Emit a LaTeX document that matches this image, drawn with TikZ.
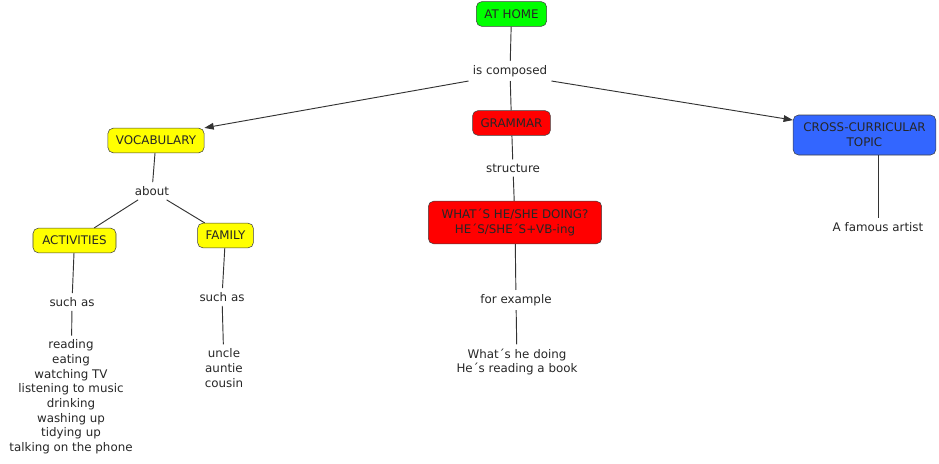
\documentclass[tikz,border=0pt]{standalone}
\usepackage{fontspec}
\setmainfont{DejaVu Sans}
\usetikzlibrary{
    positioning,   % relative placement
    arrows.meta    % arrow tips
}

\begin{document}
\begin{tikzpicture}[
    x=0.75pt, y=-0.75pt,
    % Global text settings
    every node/.style={font=\fontsize{8.9}{11}\selectfont, text=black!85},
    % Style for the concept boxes
    concept/.style={
        draw=black!75,
        rounded corners=4pt,
        inner xsep=6pt,
        minimum height=18.5pt,
        align=center
    },
    % Box colours
    green_box/.style={concept, fill={rgb,255:red,0;green,255;blue,0}},
    yellow_box/.style={concept, fill={rgb,255:red,255;green,255;blue,0}},
    red_box/.style={concept, fill={rgb,255:red,255;green,0;blue,0}},
    blue_box/.style={concept, fill={rgb,255:red,51;green,102;blue,255}},
    % Style for the linking phrases and plain texts
    link_text/.style={inner sep=3pt, align=center},
    % Connectors
    link_line/.style={draw=black!80, line width=0.7pt},
    arrow_tip/.style={-{Triangle[length=7pt, width=5pt]}}
]
    \useasboundingbox (0,0) rectangle (939,464);

    % 1. Concept boxes
    \node[green_box] (at_home) at (511.5,14) {AT HOME};
    \node[yellow_box] (vocabulary) at (156,140.5) {VOCABULARY};
    \node[red_box] (grammar) at (511.5,123) {GRAMMAR};
    \node[blue_box, minimum width=107pt, minimum height=30pt] (cross_topic) at (864.5,135) {CROSS-CURRICULAR\\TOPIC};
    \node[yellow_box, inner xsep=7pt] (activities) at (74.5,240.5) {ACTIVITIES};
    \node[yellow_box] (family) at (225.5,235.5) {FAMILY};
    \node[red_box, minimum width=130pt, minimum height=32pt] (structure_box) at (515,222.5) {WHAT´S HE/SHE DOING?\\HE´S/SHE´S+VB-ing};

    % 2. Linking phrases
    \node[link_text] (is_composed) at (510,71) {is composed};
    \node[link_text] (about) at (152,191) {about};
    \node[link_text] (structure) at (513,168) {structure};
    \node[link_text] (for_example) at (516,300) {for example};
    \node[link_text] (such_as_act) at (72,302) {such as};
    \node[link_text] (such_as_fam) at (222,297) {such as};

    % 3. Plain texts
    \node[link_text] (artist) at (878,227) {A famous artist};
    \node[link_text] (example_text) at (517,362) {What´s he doing\\He´s reading a book};
    \node[link_text] (act_list) at (71,397) {reading\\eating\\watching TV\\listening to music\\drinking\\washing up\\tidying up\\talking on the phone};
    \node[link_text] (fam_list) at (224,368) {uncle\\auntie\\cousin};

    % 4. Connectors
    \draw[link_line] (at_home) -- (is_composed);
    \draw[link_line, arrow_tip] (is_composed.south west) -- (vocabulary.north east);
    \draw[link_line] (is_composed) -- (grammar);
    \draw[link_line, arrow_tip] (is_composed.south east) -- ([yshift=-4pt]cross_topic.north west);

    \draw[link_line] (vocabulary) -- (about);
    \draw[link_line] (about) -- (activities);
    \draw[link_line] (about) -- (family);
    \draw[link_line] (activities) -- (such_as_act);
    \draw[link_line] (such_as_act) -- (act_list);
    \draw[link_line] (family) -- (such_as_fam);
    \draw[link_line] (such_as_fam) -- (fam_list);

    \draw[link_line] (grammar) -- (structure);
    \draw[link_line] (structure) -- (structure_box);
    \draw[link_line] (structure_box) -- (for_example);
    \draw[link_line] (for_example) -- (example_text);

    \draw[link_line] (artist.north |- cross_topic.south) -- (artist);

\end{tikzpicture}
\end{document}
